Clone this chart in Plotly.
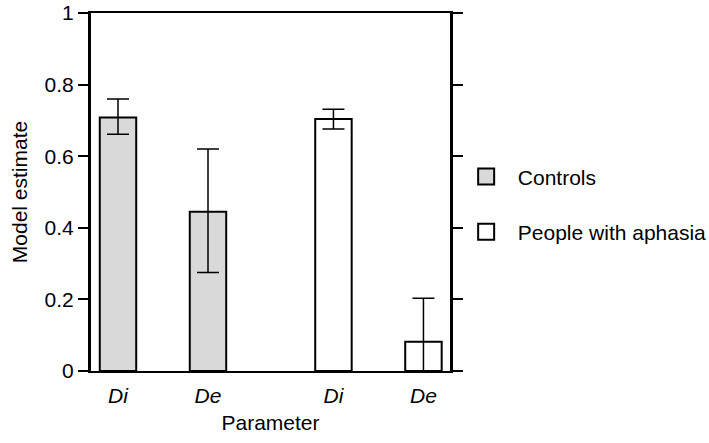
import plotly.graph_objects as go

# ---- data ----
params = ["Di", "De"]
groups = ["Controls", "People with aphasia"]

controls_est = [0.708, 0.445]
controls_upper = [0.760, 0.620]
controls_lower = [0.661, 0.275]

aphasia_est = [0.704, 0.082]
aphasia_upper = [0.731, 0.203]
aphasia_lower = [0.676, 0.0]

ytick_vals = [0, 0.2, 0.4, 0.6, 0.8, 1]
ytick_text = ["0", "0.2", "0.4", "0.6", "0.8", "1"]

# ---- layout constants ----
GROUP_OFFSET = 2.394
BAR_WIDTH = 0.405
FONT = "Liberation Sans, Arial, Helvetica, sans-serif"
FS = 21
colors = {"Controls": "#d9d9d9", "People with aphasia": "#ffffff"}

series = {
    "Controls": (controls_est, controls_upper, controls_lower),
    "People with aphasia": (aphasia_est, aphasia_upper, aphasia_lower),
}

fig = go.Figure()
all_pos, all_text = [], []
for gi, g in enumerate(groups):
    est, up, lo = series[g]
    pos = [gi * GROUP_OFFSET + i for i in range(len(params))]
    all_pos += pos
    all_text += ["<i>%s</i>" % p for p in params]
    fig.add_trace(go.Bar(
        x=pos, y=est, width=BAR_WIDTH,
        marker=dict(color=colors[g], line=dict(color="black", width=2)),
        error_y=dict(type="data", symmetric=False,
                     array=[u - e for u, e in zip(up, est)],
                     arrayminus=[e - l for e, l in zip(est, lo)],
                     color="black", thickness=1.5, width=11),
        showlegend=False, hoverinfo="skip",
    ))

legend_names = ["legend", "legend2"]
legend_y = [0.542, 0.388]
for gi, g in enumerate(groups):
    fig.add_trace(go.Scatter(
        x=[None], y=[None], mode="markers", name="\u00a0\u00a0" + g,
        marker=dict(symbol="square", size=16, color=colors[g],
                    line=dict(color="black", width=2)),
        legend=legend_names[gi], showlegend=True,
    ))

legend_common = dict(font=dict(family=FONT, size=FS, color="black"),
                     bgcolor="rgba(0,0,0,0)", borderwidth=0,
                     xanchor="left", yanchor="middle", x=1.045,
                     itemsizing="trace")

fig.update_layout(
    width=709, height=443,
    margin=dict(l=91, r=259, t=13, b=72, autoexpand=False),
    plot_bgcolor="white", paper_bgcolor="white",
    font=dict(family=FONT, size=FS, color="black"),
    barmode="overlay",
    legend=dict(legend_common, y=legend_y[0]),
    legend2=dict(legend_common, y=legend_y[1]),
    xaxis=dict(
        range=[-0.3, 3.689],
        tickvals=all_pos, ticktext=all_text,
        ticks="", ticklabelstandoff=5, automargin=False,
        showline=True, linecolor="black", linewidth=2, mirror=True,
        showgrid=False, zeroline=False,
        tickfont=dict(size=FS),
        title=dict(text="Parameter", font=dict(size=FS), standoff=9),
    ),
    yaxis=dict(
        range=[0, 1], automargin=False,
        tickvals=ytick_vals, ticktext=ytick_text,
        ticks="outside", ticklen=10, tickwidth=2, tickcolor="black",
        showline=True, linecolor="black", linewidth=3, mirror="ticks",
        showgrid=False, zeroline=False,
        tickfont=dict(size=FS),
        title=dict(text="Model estimate", font=dict(size=FS), standoff=12),
    ),
)

fig.write_html("out.html")
